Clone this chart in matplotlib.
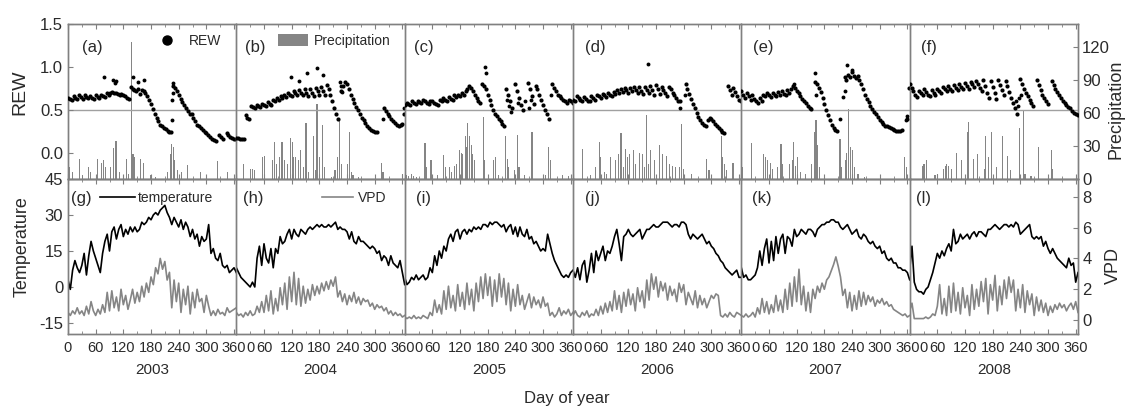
import numpy as np
import matplotlib
matplotlib.use('Agg')
import matplotlib.pyplot as plt
from matplotlib.lines import Line2D
from matplotlib.patches import Patch
from matplotlib.transforms import ScaledTranslation

plt.rcParams['font.family'] = ['Liberation Sans', 'DejaVu Sans']
plt.rcParams['axes.unicode_minus'] = False

nan = np.nan
years = ['2003', '2004', '2005', '2006', '2007', '2008']
top_tags = ['(a)', '(b)', '(c)', '(d)', '(e)', '(f)']
bottom_tags = ['(g)', '(h)', '(i)', '(j)', '(k)', '(l)']
day_ticks = [0, 60, 120, 180, 240, 300, 360]

# REW every 4 days (day 0 ... 364)
rew_days = np.arange(0, 365, 4)
rew_2003 = [0.64, 0.63, 0.62, 0.66, 0.64, 0.63, 0.67, 0.65, 0.63, 0.67,
            0.65, 0.64, 0.66, 0.64, 0.63, 0.67, 0.65, 0.64, 0.68, 0.66,
            0.65, 0.70, 0.68, 0.70, 0.71, 0.70, 0.70, 0.69, 0.68, 0.69,
            0.67, 0.66, 0.64, 0.63, 0.77, 0.75, 0.73, 0.72, 0.74, 0.69,
            0.73, 0.72, 0.70, 0.66, 0.62, 0.57, 0.51, 0.46, 0.41, 0.37,
            0.33, 0.31, 0.29, 0.28, 0.26, 0.25, 0.25, 0.78, 0.76, 0.72,
            0.67, 0.63, 0.59, 0.56, 0.52, 0.49, 0.46, 0.45, 0.41, 0.37,
            0.33, 0.31, 0.29, 0.27, 0.25, 0.23, 0.21, 0.19, 0.17, 0.15,
            0.14, nan, 0.21, 0.19, 0.17, nan, 0.23, 0.21, 0.19, 0.18,
            0.17, 0.17]
rew_2004 = [0.18, 0.18, 0.17, 0.17, 0.17, 0.44, 0.41, 0.40, 0.55, 0.54,
            0.53, 0.56, 0.55, 0.54, 0.57, 0.56, 0.55, 0.59, 0.57, 0.56,
            0.62, 0.60, 0.64, 0.62, 0.66, 0.64, 0.67, 0.65, 0.70, 0.68,
            0.66, 0.72, 0.70, 0.68, 0.73, 0.70, 0.67, 0.74, 0.70, 0.66,
            0.75, 0.70, 0.66, 0.76, 0.72, 0.67, 0.77, 0.72, 0.68, 0.79,
            0.75, 0.68, 0.60, 0.52, 0.45, 0.40, nan, 0.72, 0.78, 0.83,
            0.80, 0.74, 0.68, 0.63, 0.58, 0.54, 0.50, 0.45, 0.41, 0.38,
            0.35, 0.32, 0.29, 0.27, 0.26, 0.25, 0.25, nan, nan, nan,
            0.52, 0.49, 0.46, 0.43, 0.40, 0.37, 0.35, 0.33, 0.32, 0.33,
            0.34, 0.45]
rew_2005 = [0.56, 0.58, 0.57, 0.56, 0.60, 0.58, 0.57, 0.60, 0.59, 0.58,
            0.62, 0.60, 0.58, 0.57, 0.61, 0.60, 0.58, 0.57, 0.56, 0.62,
            0.60, 0.64, 0.62, 0.60, 0.65, 0.63, 0.62, 0.67, 0.65, 0.68,
            0.66, 0.70, 0.68, 0.72, 0.74, 0.78, 0.76, 0.72, 0.68, 0.64,
            0.60, 0.58, 0.80, 0.78, 0.74, 0.68, 0.62, 0.56, 0.50, 0.45,
            0.43, 0.40, 0.37, 0.34, 0.32, 0.74, 0.68, 0.60, 0.52, nan,
            0.80, 0.72, 0.64, 0.56, 0.50, nan, nan, 0.82, 0.74, 0.66,
            0.57, 0.78, 0.74, 0.68, 0.62, 0.56, 0.50, 0.45, 0.40, nan,
            0.80, 0.76, 0.72, 0.68, 0.66, 0.64, 0.62, 0.60, 0.58, 0.62,
            0.60, 0.58]
rew_2006 = [0.62, 0.60, 0.66, 0.64, 0.62, 0.60, 0.65, 0.63, 0.61, 0.60,
            0.66, 0.64, 0.62, 0.68, 0.66, 0.64, 0.69, 0.67, 0.65, 0.70,
            0.68, 0.66, 0.71, 0.69, 0.73, 0.70, 0.74, 0.71, 0.76, 0.73,
            0.70, 0.76, 0.72, 0.77, 0.73, 0.70, 0.77, 0.72, 0.69, 0.77,
            0.73, 0.70, 0.78, 0.73, 0.68, 0.79, 0.74, 0.69, 0.77, 0.73,
            0.70, 0.66, 0.77, 0.74, 0.70, 0.67, 0.64, 0.61, 0.60, nan,
            nan, 0.80, 0.74, 0.69, 0.63, 0.57, 0.52, 0.47, 0.42, 0.38,
            0.35, 0.33, 0.31, 0.38, 0.41, 0.40, 0.37, 0.34, 0.31, 0.29,
            0.27, 0.25, 0.23, nan, 0.78, 0.73, 0.68, 0.76, 0.71, 0.66,
            0.62, 0.60]
rew_2007 = [0.72, 0.68, 0.64, 0.70, 0.66, 0.62, 0.68, 0.63, 0.60, 0.58,
            0.64, 0.60, 0.68, 0.66, 0.70, 0.67, 0.65, 0.70, 0.67, 0.66,
            0.71, 0.68, 0.72, 0.69, 0.67, 0.73, 0.70, 0.75, 0.78, 0.76,
            0.72, 0.70, 0.66, 0.63, 0.60, 0.58, 0.55, 0.53, 0.51, nan,
            0.83, 0.80, 0.76, 0.71, 0.64, 0.57, 0.50, 0.44, 0.38, 0.33,
            0.29, 0.27, 0.26, nan, nan, nan, 0.88, 0.85, 0.91, 0.88,
            0.94, 0.90, 0.87, 0.90, 0.85, 0.80, 0.74, 0.68, 0.63, 0.59,
            0.55, 0.51, 0.48, 0.45, 0.42, 0.39, 0.36, 0.34, 0.32, 0.31,
            0.30, 0.29, 0.28, 0.27, 0.26, 0.26, 0.26, 0.27, nan, nan,
            0.40, 0.76]
rew_2008 = [0.80, 0.76, 0.72, 0.68, 0.65, 0.72, 0.70, 0.68, 0.74, 0.71,
            0.68, 0.66, 0.73, 0.70, 0.68, 0.75, 0.72, 0.70, 0.77, 0.74,
            0.72, 0.78, 0.75, 0.72, 0.79, 0.76, 0.73, 0.80, 0.77, 0.74,
            0.81, 0.78, 0.75, 0.83, 0.80, 0.77, 0.84, 0.80, 0.76, 0.72,
            0.85, 0.78, 0.70, 0.64, 0.84, 0.77, 0.70, 0.63, 0.85, 0.79,
            0.73, 0.67, 0.84, 0.78, 0.71, 0.64, 0.58, 0.52, 0.46, nan,
            0.86, 0.80, 0.75, 0.70, 0.66, 0.62, 0.58, 0.55, nan, 0.85,
            0.79, 0.73, 0.68, 0.64, 0.60, 0.57, nan, 0.84, 0.79, 0.75,
            0.71, 0.67, 0.64, 0.61, 0.58, 0.56, 0.54, 0.52, 0.49, 0.47,
            0.45, 0.44]

# scattered REW points away from the main curve
rew_extra_day_2003 = [78, 97, 101, 104, 142, 152, 165, 226, 226, 227, 228]
rew_extra_2003 = [0.89, 0.85, 0.82, 0.84, 0.88, 0.83, 0.85, 0.39, 0.62, 0.70, 0.82]
rew_extra_day_2004 = [118, 135, 153, 175, 187, 225, 226, 230, 318, 363]
rew_extra_2004 = [0.89, 0.84, 0.93, 0.99, 0.91, 0.83, 0.78, 0.71, 0.40, 0.52]
rew_extra_day_2005 = [174, 176, 222, 226, 230, 246, 262, 270, 274, 318]
rew_extra_2005 = [1.00, 0.93, 0.62, 0.55, 0.48, 0.58, 0.60, 0.52, 0.62, 0.68]
rew_extra_day_2006 = [162, 232, 242]
rew_extra_2006 = [1.03, 0.52, 0.68]
rew_extra_day_2007 = [115, 160, 162, 214, 220, 224, 230, 241, 358, 360]
rew_extra_2007 = [0.80, 0.93, 0.67, 0.40, 0.65, 0.72, 1.02, 0.97, 0.38, 0.43]
rew_extra_day_2008 = [230, 234, 238, 242]
rew_extra_2008 = [0.60, 0.55, 0.64, 0.68]

# precipitation events (day, mm)
rain_day_2003 = [4, 10, 24, 31, 44, 48, 64, 73, 77, 81, 93, 99, 104, 106, 111, 126, 131, 138,
                 141, 144, 158, 163, 180, 189, 216, 222, 225, 228, 231, 238, 247, 260, 287, 325, 345]
rain_mm_2003 = [11, 6, 18, 4, 11, 6, 18, 15, 17, 11, 11, 28, 35, 23, 6, 18, 5, 125,
                23, 20, 18, 15, 4, 2, 6, 23, 32, 29, 17, 8, 6, 13, 6, 16, 6]
rain_day_2004 = [16, 31, 36, 40, 56, 61, 78, 83, 88, 93, 99, 105, 110, 117, 121, 124, 129, 134, 139,
                 146, 151, 156, 167, 171, 175, 180, 187, 192, 207, 214, 220, 224, 228, 241, 245, 250,
                 253, 264, 314, 318, 361]
rain_mm_2004 = [14, 9, 9, 8, 20, 21, 17, 34, 14, 20, 34, 17, 14, 37, 34, 20, 20, 17, 26,
                11, 51, 6, 39, 8, 68, 20, 49, 11, 2, 8, 20, 54, 14, 14, 43, 6,
                4, 2, 15, 6, 5]
rain_day_2005 = [3, 8, 14, 20, 26, 44, 47, 57, 72, 85, 88, 97, 101, 108, 112, 119, 123, 126, 131,
                 135, 137, 141, 145, 148, 152, 170, 174, 192, 197, 203, 218, 223, 226, 239, 245, 248,
                 260, 276, 305, 312, 316, 342, 356]
rain_mm_2005 = [4, 3, 5, 3, 2, 33, 11, 17, 4, 22, 11, 11, 6, 12, 14, 26, 24, 23, 39,
                29, 51, 39, 31, 23, 17, 56, 17, 17, 20, 4, 39, 18, 11, 8, 40, 11,
                4, 43, 4, 29, 17, 4, 3]
rain_day_2006 = [2, 20, 38, 49, 57, 60, 68, 73, 82, 93, 99, 104, 109, 113, 118, 123, 131, 136, 144,
                 150, 155, 160, 164, 169, 176, 187, 195, 202, 209, 216, 222, 231, 236, 240, 256, 290,
                 295, 322, 325, 329, 333, 347]
rain_mm_2006 = [5, 27, 4, 11, 34, 20, 6, 5, 20, 17, 23, 42, 11, 27, 20, 23, 26, 14, 24,
                23, 11, 58, 14, 26, 17, 31, 23, 21, 14, 12, 11, 11, 50, 9, 5, 18,
                8, 39, 20, 14, 8, 15]
rain_day_2007 = [2, 22, 49, 53, 57, 63, 67, 78, 86, 90, 105, 110, 113, 117, 121, 128, 139, 153,
                 158, 162, 165, 169, 214, 218, 225, 228, 233, 237, 241, 246, 253, 268, 354, 359]
rain_mm_2007 = [11, 33, 23, 20, 17, 15, 9, 11, 32, 14, 14, 17, 34, 12, 20, 6, 5, 14,
                43, 54, 31, 11, 36, 11, 17, 24, 64, 29, 26, 11, 5, 2, 20, 11]
rain_day_2008 = [28, 31, 36, 55, 61, 73, 77, 80, 85, 90, 102, 112, 126, 128, 139, 148, 163, 165,
                 170, 177, 188, 201, 212, 218, 239, 247, 250, 263, 280, 307, 310]
rain_mm_2008 = [12, 14, 17, 4, 5, 9, 12, 14, 12, 9, 24, 17, 43, 52, 18, 23, 9, 39,
                20, 43, 11, 39, 21, 8, 46, 63, 5, 3, 29, 26, 9]

# temperature and VPD every 5 days (day 0 ... 365)
met_days = np.arange(0, 366, 5)
temp_2003 = [3, -1, 7, 11, 8, 6, 9, 14, 5, 13,
             19, 15, 12, 9, 6, 14, 19, 22, 15, 23,
             25, 20, 24, 26, 21, 24, 22, 25, 23, 25,
             23, 24, 27, 26, 27, 29, 28, 30, 31, 30,
             32, 33, 34, 31, 29, 26, 29, 27, 25, 28,
             24, 27, 25, 21, 24, 20, 22, 17, 21, 19,
             20, 26, 14, 16, 12, 11, 14, 9, 8, 9,
             6, 7, 8, 6]
temp_2004 = [8, 6, 4, 3, 2, 1, 0, 2, 0, 12,
             17, 9, 18, 12, 10, 16, 8, 16, 14, 21,
             18, 19, 22, 24, 20, 24, 22, 21, 24, 23,
             22, 24, 25, 24, 25, 26, 25, 26, 25, 25,
             26, 25, 26, 27, 24, 25, 24, 24, 23, 20,
             23, 19, 18, 21, 19, 19, 18, 17, 16, 17,
             16, 14, 15, 11, 13, 12, 9, 13, 10, 9,
             8, 11, 6, 1]
temp_2005 = [4, 1, 2, 4, 3, 5, 3, 4, 5, 3,
             4, 8, 6, 13, 9, 15, 12, 17, 15, 20,
             22, 19, 23, 24, 20, 23, 24, 22, 24, 23,
             25, 24, 25, 24, 26, 26, 25, 27, 26, 27,
             27, 26, 25, 26, 23, 25, 26, 22, 25, 21,
             25, 22, 21, 24, 20, 21, 18, 19, 17, 15,
             16, 15, 22, 18, 14, 11, 9, 7, 5, 4,
             5, 4, 6, 7]
temp_2006 = [7, 4, 8, 3, 9, 11, 2, 7, 14, 6,
             15, 11, 14, 17, 11, 15, 14, 17, 21, 24,
             18, 11, 21, 22, 24, 22, 21, 22, 23, 24,
             20, 22, 24, 24, 25, 26, 25, 25, 26, 27,
             27, 27, 26, 25, 26, 26, 25, 27, 27, 26,
             22, 20, 22, 21, 20, 21, 22, 20, 18, 19,
             17, 16, 14, 13, 11, 10, 8, 7, 6, 5,
             6, 7, 4, 4]
temp_2007 = [8, 4, 5, 3, 3, 4, 5, 8, 15, 9,
             16, 20, 10, 19, 11, 21, 14, 20, 22, 14,
             21, 20, 17, 24, 21, 22, 24, 23, 22, 24,
             24, 23, 21, 24, 25, 26, 26, 27, 27, 28,
             28, 27, 27, 25, 24, 25, 26, 24, 22, 23,
             24, 21, 20, 22, 21, 19, 18, 19, 17, 16,
             17, 14, 15, 12, 11, 12, 10, 10, 8, 8,
             7, 7, 6, 3]
temp_2008 = [7, 17, 2, -1, -2, -2, -3, -1, 0, 3,
             6, 10, 14, 12, 15, 13, 16, 18, 15, 24,
             18, 19, 22, 20, 21, 22, 20, 22, 23, 21,
             23, 23, 22, 21, 24, 24, 25, 26, 25, 24,
             25, 26, 26, 25, 26, 25, 27, 26, 22, 23,
             24, 25, 26, 21, 20, 21, 20, 21, 17, 19,
             16, 14, 16, 14, 12, 11, 10, 9, 8, 12,
             9, 10, 2, 6]

vpd_2003 = [0.5, 0.3, 0.6, 0.4, 0.8, 0.4, 0.6, 0.3, 0.9, 0.4,
            1.2, 0.6, 0.3, 0.7, 0.4, 1.0, 0.5, 1.8, 0.6, 1.9,
            0.8, 1.5, 0.6, 2.0, 1.0, 1.6, 0.7, 1.3, 2.0, 1.1,
            1.8, 1.2, 2.2, 1.5, 2.4, 1.8, 2.8, 2.3, 3.4, 3.0,
            4.0, 3.3, 3.8, 2.6, 3.1, 0.8, 2.6, 1.2, 2.4, 0.5,
            2.0, 1.0, 2.2, 0.4, 1.8, 0.8, 2.0, 1.2, 1.4, 0.5,
            1.6, 0.9, 0.3, 0.6, 0.3, 0.7, 0.4, 0.5, 0.3, 0.8,
            0.5, 0.6, 0.7, 0.8]
vpd_2004 = [0.5, 0.3, 0.4, 0.2, 0.5, 0.3, 0.6, 0.3, 0.4, 0.9,
            0.5, 1.2, 0.5, 1.6, 0.6, 1.9, 0.4, 1.4, 0.6, 2.1,
            1.0, 2.4, 0.7, 2.8, 1.2, 3.1, 1.0, 2.7, 0.9, 2.2,
            1.1, 2.0, 1.3, 2.3, 1.6, 2.2, 1.7, 2.4, 1.9, 2.5,
            2.0, 2.6, 2.2, 2.8, 1.5, 1.9, 1.2, 1.7, 1.0, 1.6,
            1.2, 1.8, 1.1, 1.5, 1.0, 1.4, 1.2, 1.3, 0.9, 1.1,
            0.7, 1.0, 0.8, 0.9, 0.6, 0.8, 0.4, 0.6, 0.3, 0.5,
            0.3, 0.4, 0.2, 0.3]
vpd_2005 = [0.2, 0.1, 0.2, 0.1, 0.3, 0.1, 0.2, 0.1, 0.3, 0.2,
            0.1, 0.5, 0.3, 1.3, 0.5, 1.0, 0.4, 1.9, 0.7, 2.2,
            0.8, 1.6, 0.6, 2.3, 0.9, 1.8, 0.7, 2.4, 1.0, 2.0,
            0.6, 2.4, 1.2, 2.8, 1.4, 3.0, 1.6, 2.8, 0.9, 2.6,
            1.2, 3.0, 1.5, 2.7, 1.0, 2.4, 0.6, 2.0, 0.9, 2.3,
            1.0, 1.6, 0.7, 1.2, 1.7, 0.8, 1.5, 1.0, 1.3, 0.8,
            1.5, 0.9, 1.1, 0.3, 0.5, 0.2, 0.4, 0.8, 0.3, 0.6,
            0.4, 0.7, 0.3, 0.5]
vpd_2006 = [0.3, 0.6, 0.3, 0.2, 0.5, 0.3, 0.6, 0.2, 0.4, 0.3,
            0.7, 0.3, 0.9, 0.4, 1.1, 0.5, 1.2, 0.6, 1.9, 0.7,
            1.6, 0.5, 1.8, 0.9, 2.0, 1.0, 1.7, 0.6, 2.1, 1.2,
            1.9, 0.8, 2.6, 1.3, 3.0, 2.0, 2.8, 1.5, 2.5, 1.9,
            2.4, 1.3, 2.2, 1.6, 2.0, 1.2, 2.4, 1.8, 2.3, 1.0,
            1.8, 1.4, 1.0, 1.9, 0.8, 1.6, 1.0, 1.4, 0.8, 1.2,
            1.6, 1.4, 1.7, 1.6, 0.3, 0.2, 0.4, 0.2, 0.5, 0.3,
            0.2, 0.5, 0.4, 0.3]
vpd_2007 = [0.3, 0.2, 0.4, 0.2, 0.3, 0.5, 0.2, 0.8, 0.4, 1.4,
            0.5, 1.2, 0.4, 1.0, 0.5, 1.6, 0.6, 1.3, 0.5, 2.0,
            0.7, 2.4, 0.9, 2.8, 1.2, 3.3, 1.0, 2.2, 0.6, 1.8,
            0.5, 2.0, 1.4, 2.2, 1.8, 2.4, 2.0, 2.6, 2.8, 3.2,
            3.6, 4.1, 3.5, 2.8, 1.6, 2.0, 0.8, 1.8, 0.6, 1.6,
            0.7, 1.9, 0.9, 1.8, 1.0, 1.6, 1.2, 1.5, 0.9, 1.3,
            1.1, 1.4, 1.0, 1.2, 0.9, 1.0, 0.7, 0.6, 0.5, 0.4,
            0.3, 0.4, 0.2, 0.3]
vpd_2008 = [0.6, 1.1, 0.1, 0.1, 0.1, 0.1, 0.1, 0.2, 0.1, 0.2,
            0.4, 0.3, 0.9, 2.3, 0.4, 1.4, 0.3, 2.2, 0.5, 2.4,
            0.6, 1.8, 0.4, 2.1, 0.8, 1.6, 0.3, 2.3, 0.7, 2.0,
            0.9, 2.5, 1.2, 2.7, 0.4, 2.3, 1.3, 2.9, 0.6, 2.2,
            1.0, 2.6, 1.4, 2.8, 1.8, 2.6, 0.6, 2.0, 0.8, 2.3,
            0.5, 1.9, 1.0, 1.7, 0.3, 1.5, 0.6, 1.3, 0.5, 1.1,
            0.3, 0.9, 0.5, 1.0, 0.7, 1.1, 0.8, 1.0, 0.6, 0.9,
            1.1, 0.7, 1.2, 0.5]

rew = [rew_2003, rew_2004, rew_2005, rew_2006, rew_2007, rew_2008]
rew_extra_day = [rew_extra_day_2003, rew_extra_day_2004, rew_extra_day_2005,
                 rew_extra_day_2006, rew_extra_day_2007, rew_extra_day_2008]
rew_extra = [rew_extra_2003, rew_extra_2004, rew_extra_2005,
             rew_extra_2006, rew_extra_2007, rew_extra_2008]
rain_day = [rain_day_2003, rain_day_2004, rain_day_2005, rain_day_2006, rain_day_2007, rain_day_2008]
rain_mm = [rain_mm_2003, rain_mm_2004, rain_mm_2005, rain_mm_2006, rain_mm_2007, rain_mm_2008]
temp = [temp_2003, temp_2004, temp_2005, temp_2006, temp_2007, temp_2008]
vpd = [vpd_2003, vpd_2004, vpd_2005, vpd_2006, vpd_2007, vpd_2008]

W, H = 1126, 409
fig = plt.figure(figsize=(W / 100, H / 100), dpi=100)

x0, x1 = 68 / W, 1078 / W
w = (x1 - x0) / 6
top_box = (1 - 179 / H, 155 / H)
bot_box = (1 - 334 / H, 155 / H)
edge = '#808080'
grey = '#858585'
txt = '#2a2a2a'
top_tag_x = [0.083, 0.053, 0.053, 0.07, 0.07, 0.07]
bot_tag_x = [0.015, 0.04, 0.065, 0.07, 0.065, 0.04]
# nudge the "0" label of inner panels right so it does not sit on the previous "360"
zero_shift = ScaledTranslation(0.10, 0, fig.dpi_scale_trans)


def style(ax, tw, i, bottom_row):
    for a in (ax, tw):
        for s in a.spines.values():
            s.set_color(edge)
            s.set_linewidth(1.0)
        if i < 5:
            a.spines['right'].set_visible(False)
    ax.set_xlim(0, 365)
    ax.set_xticks(day_ticks)
    ax.set_xticks([30, 90, 150, 210, 270, 330], minor=True)
    ax.tick_params(axis='x', which='both', direction='in', top=True, color=edge,
                   labelbottom=bottom_row, labelsize=10.5, labelcolor=txt, pad=5)
    ax.tick_params(axis='x', which='major', length=3.5)
    ax.tick_params(axis='x', which='minor', length=2)
    ax.tick_params(axis='y', direction='in', color=edge, length=3.5,
                   left=(i == 0), labelleft=(i == 0), labelsize=12, labelcolor=txt)
    tw.tick_params(axis='y', direction='in', color=edge, length=3.5,
                   right=(i == 5), labelright=(i == 5), labelsize=12, labelcolor=txt, pad=3)
    ax.set_zorder(tw.get_zorder() + 1)
    ax.patch.set_visible(False)


top_axes, bot_axes = [], []
for i in range(6):
    # REW + precipitation
    ax = fig.add_axes([x0 + i * w, top_box[0], w, top_box[1]])
    axp = ax.twinx()
    axp.bar(rain_day[i], rain_mm[i], width=2.4, color=grey, linewidth=0)
    axp.set_ylim(0, 141)
    axp.set_yticks([0, 30, 60, 90, 120])
    ax.axhline(0.5, color='#a0a0a0', lw=1.0, zorder=1)
    ax.plot(rew_days, rew[i], 'o', color='black', ms=3.0, mew=0, zorder=3)
    ax.plot(rew_extra_day[i], rew_extra[i], 'o', color='black', ms=2.8, mew=0, zorder=3)
    ax.set_ylim(-0.3, 1.5)
    ax.set_yticks([0.0, 0.5, 1.0, 1.5])
    style(ax, axp, i, False)
    ax.text(top_tag_x[i], 0.85, top_tags[i], transform=ax.transAxes, fontsize=12,
            color=txt, ha='left', va='center')
    top_axes.append(ax)

    # temperature + VPD
    ax2 = fig.add_axes([x0 + i * w, bot_box[0], w, bot_box[1]])
    axv = ax2.twinx()
    axv.plot(met_days, vpd[i], color=grey, lw=1.2)
    axv.set_ylim(-0.9, 9.15)
    axv.set_yticks([0, 2, 4, 6, 8])
    ax2.plot(met_days, temp[i], color='black', lw=1.2)
    ax2.set_ylim(-19.6, 45)
    ax2.set_yticks([-15, 0, 15, 30, 45])
    style(ax2, axv, i, True)
    if i > 0:
        lab0 = ax2.get_xticklabels()[0]
        lab0.set_horizontalalignment('left')
        lab0.set_transform(lab0.get_transform() + zero_shift)
    ax2.text(bot_tag_x[i], 0.875, bottom_tags[i], transform=ax2.transAxes, fontsize=12,
             color=txt, ha='left', va='center')
    ax2.text(0.5, -0.232, years[i], transform=ax2.transAxes, fontsize=11,
             color=txt, ha='center', va='center')
    bot_axes.append(ax2)

top_axes[0].legend(handles=[Line2D([], [], marker='o', ls='none', color='black', ms=6.5)],
                   labels=['REW'], loc='center left', bbox_to_anchor=(0.546, 0.89),
                   frameon=False, fontsize=10, handlelength=1.0, handletextpad=1.1,
                   borderpad=0, borderaxespad=0, labelcolor=txt)
top_axes[1].legend(handles=[Patch(facecolor=grey, edgecolor='none')], labels=['Precipitation'],
                   loc='center left', bbox_to_anchor=(0.247, 0.89), frameon=False, fontsize=10,
                   handlelength=2.2, handleheight=0.9, handletextpad=0.4,
                   borderpad=0, borderaxespad=0, labelcolor=txt)
bot_axes[0].legend(handles=[Line2D([], [], color='black', lw=1.2)], labels=['temperature'],
                   loc='center left', bbox_to_anchor=(0.19, 0.877), frameon=False, fontsize=10,
                   handlelength=2.5, handletextpad=0.25, borderpad=0, borderaxespad=0,
                   labelcolor=txt)
bot_axes[1].legend(handles=[Line2D([], [], color=grey, lw=1.2)], labels=['VPD'],
                   loc='center left', bbox_to_anchor=(0.506, 0.877), frameon=False, fontsize=10,
                   handlelength=2.3, handletextpad=0.35, borderpad=0, borderaxespad=0,
                   labelcolor=txt)

fig.text(20 / W, 1 - 92 / H, 'REW', rotation=90, ha='center', va='center', fontsize=14, color=txt)
fig.text(22 / W, 1 - 247 / H, 'Temperature', rotation=90, ha='center', va='center',
         fontsize=13, color=txt)
fig.text(1116 / W, 1 - 109 / H, 'Precipitation', rotation=90, ha='center', va='center',
         fontsize=13, color=txt)
fig.text(1113 / W, 1 - 266 / H, 'VPD', rotation=90, ha='center', va='center',
         fontsize=13, color=txt)
fig.text(567 / W, 1 - 398 / H, 'Day of year', ha='center', va='center', fontsize=12, color=txt)

fig.savefig('out.png', dpi=100)
